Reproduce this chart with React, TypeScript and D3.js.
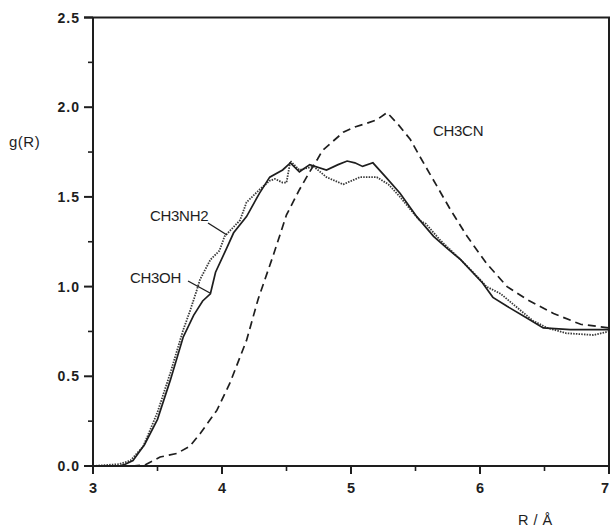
import React from "react";
import * as d3 from "d3";

const rCN = [3.0, 3.3, 3.4, 3.52, 3.65, 3.75, 3.83, 3.96, 4.06, 4.19, 4.28, 4.4, 4.5, 4.6, 4.68, 4.74, 4.78, 4.86, 4.94, 5.03, 5.12, 5.2, 5.28, 5.37, 5.46, 5.53, 5.61, 5.69, 5.77, 5.9, 6.05, 6.21, 6.36, 6.57, 6.78, 7.0];
const gCN = [0, 0, 0.005, 0.05, 0.07, 0.11, 0.18, 0.31, 0.46, 0.7, 0.93, 1.18, 1.4, 1.54, 1.64, 1.71, 1.76, 1.81, 1.86, 1.89, 1.91, 1.93, 1.97, 1.9, 1.82, 1.73, 1.63, 1.53, 1.43, 1.28, 1.13, 1.0, 0.93, 0.85, 0.79, 0.77];

const rOH = [3.0, 3.2, 3.25, 3.31, 3.4, 3.5, 3.6, 3.7, 3.78, 3.85, 3.91, 3.95, 4.04, 4.09, 4.19, 4.29, 4.37, 4.47, 4.53, 4.6, 4.68, 4.81, 4.9, 4.97, 5.03, 5.09, 5.17, 5.27, 5.38, 5.51, 5.64, 5.75, 5.85, 6.02, 6.1, 6.21, 6.35, 6.49, 6.7, 7.0];
const gOH = [0, 0, 0.01, 0.03, 0.12, 0.26, 0.48, 0.72, 0.84, 0.92, 0.96, 1.08, 1.22, 1.3, 1.39, 1.52, 1.61, 1.65, 1.69, 1.64, 1.68, 1.65, 1.68, 1.7, 1.69, 1.67, 1.69, 1.61, 1.52, 1.39, 1.28, 1.21, 1.15, 1.02, 0.94, 0.89, 0.83, 0.77, 0.76, 0.76];

const rNH = [3.0, 3.2, 3.29, 3.39, 3.5, 3.6, 3.7, 3.75, 3.8, 3.83, 3.91, 3.98, 4.02, 4.14, 4.19, 4.29, 4.37, 4.41, 4.47, 4.5, 4.53, 4.6, 4.71, 4.81, 4.94, 5.07, 5.2, 5.29, 5.38, 5.53, 5.58, 5.69, 5.85, 6.0, 6.05, 6.16, 6.41, 6.52, 6.67, 6.88, 7.0];
const gNH = [0, 0.01, 0.03, 0.11, 0.3, 0.52, 0.76, 0.86, 0.97, 1.04, 1.15, 1.2, 1.28, 1.37, 1.47, 1.54, 1.59, 1.6, 1.58, 1.58, 1.7, 1.65, 1.67, 1.61, 1.57, 1.61, 1.61, 1.57, 1.5, 1.37, 1.35, 1.26, 1.15, 1.04, 1.0, 0.96, 0.81, 0.77, 0.74, 0.73, 0.75];

const yTicks = [0, 0.5, 1.0, 1.5, 2.0, 2.5];
const yMinor = [0.25, 0.75, 1.25, 1.75, 2.25];
const xTicks = [3, 4, 5, 6, 7];
const xMinor = [3.5, 4.5, 5.5, 6.5];

const W = 610, H = 528;
const ink = "#1e1e1e";
const font = "'Liberation Sans', Arial, Helvetica, sans-serif";

export default function App() {
  const x = d3.scaleLinear().domain([3, 7]).range([93, 609]);
  const y = d3.scaleLinear().domain([0, 2.5]).range([466, 17.5]);
  const line = d3.line<[number, number]>().x(d => x(d[0])).y(d => y(d[1]));
  const zip = (a: number[], b: number[]) => a.map((v, i) => [v, b[i]] as [number, number]);

  return (
    <svg width={W} height={H} style={{ position: "absolute", left: 0, top: 0, background: "#fff" }} fontFamily={font}>
      <rect x={0} y={0} width={W} height={H} fill="#fff" />
      {/* curves */}
      <path d={line(zip(rCN, gCN)) || ""} fill="none" stroke={ink} strokeWidth={1.7} strokeDasharray="8,5" />
      <path d={line(zip(rNH, gNH)) || ""} fill="none" stroke="#3a3a3a" strokeWidth={1.8} strokeDasharray="1.5,1.2" />
      <path d={line(zip(rOH, gOH)) || ""} fill="none" stroke={ink} strokeWidth={1.7} />
      {/* frame */}
      <line x1={x(3)} x2={x(3)} y1={y(0)} y2={y(2.5)} stroke={ink} strokeWidth={2} />
      <line x1={84} x2={W} y1={y(2.5)} y2={y(2.5)} stroke={ink} strokeWidth={2} />
      <line x1={x(7)} x2={x(7)} y1={y(0)} y2={y(2.5)} stroke={ink} strokeWidth={2} />
      <line x1={x(3)} x2={W} y1={y(0)} y2={y(0)} stroke={ink} strokeWidth={2} />
      {/* y ticks */}
      {yTicks.map(t => (
        <g key={"y" + t}>
          <line x1={84} x2={x(3)} y1={y(t)} y2={y(t)} stroke={ink} strokeWidth={2} />
          <text x={80} y={y(t) + 5} textAnchor="end" fontSize={14} fontWeight="bold" letterSpacing={1} fill={ink}>{t.toFixed(1)}</text>
        </g>
      ))}
      {yMinor.map(t => (
        <line key={"ym" + t} x1={88} x2={x(3)} y1={y(t)} y2={y(t)} stroke={ink} strokeWidth={1.6} />
      ))}
      {/* x ticks */}
      {xTicks.map(t => (
        <g key={"x" + t}>
          <line x1={x(t)} x2={x(t)} y1={y(0)} y2={y(0) + 8} stroke={ink} strokeWidth={2} />
          <text x={t === 7 ? 609 : x(t)} y={493} textAnchor={t === 7 ? "end" : "middle"} fontSize={14.5} fontWeight="bold" fill={ink}>{t}</text>
        </g>
      ))}
      {xMinor.map(t => (
        <line key={"xm" + t} x1={x(t)} x2={x(t)} y1={y(0)} y2={y(0) + 5} stroke={ink} strokeWidth={1.6} />
      ))}
      {/* axis titles */}
      <text x={9} y={147} fontSize={15} letterSpacing={0.5} fill={ink}>g(R)</text>
      <text x={518} y={525} fontSize={14.5} letterSpacing={0.5} fill={ink}>R / Å</text>
      {/* labels */}
      <text x={433} y={136} fontSize={15} letterSpacing={-0.3} fill={ink}>CH3CN</text>
      <text x={150} y={221} fontSize={15} letterSpacing={-0.3} fill={ink}>CH3NH2</text>
      <line x1={208} y1={223} x2={227} y2={235} stroke={ink} strokeWidth={1.4} />
      <text x={130} y={283} fontSize={15} letterSpacing={-0.3} fill={ink}>CH3OH</text>
      <line x1={188} y1={281} x2={210} y2={293} stroke={ink} strokeWidth={1.4} />
    </svg>
  );
}
